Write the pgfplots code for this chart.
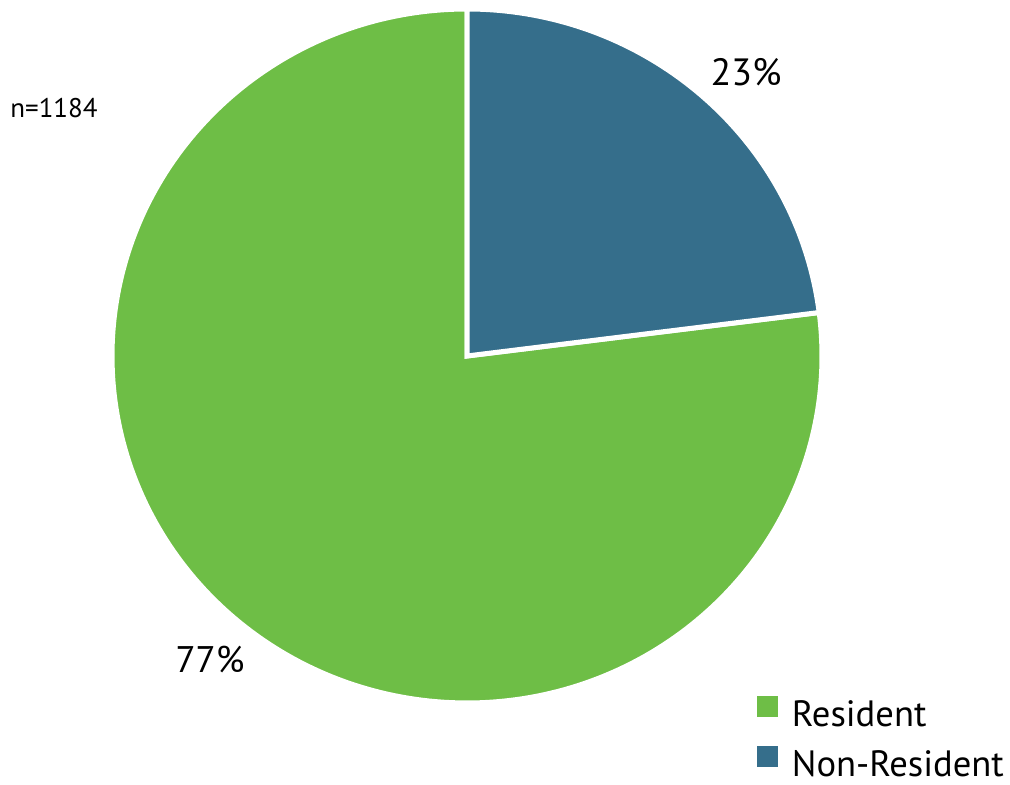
\documentclass[border=0pt]{standalone}
\usepackage{fontspec}
\setmainfont{PT Sans}
\usepackage{pgfplots}
\pgfplotsset{compat=1.18}
\definecolor{resgreen}{RGB}{110,190,70}
\definecolor{nonblue}{RGB}{53,110,139}

% shares in percent
\def\pRes{77}
\def\pNon{23}

\begin{document}
\begin{tikzpicture}
\pgfmathsetmacro\aSplit{90-3.6*\pNon}
\pgfmathsetmacro\aEnd{\aSplit-3.6*\pRes}
\begin{axis}[
  scale only axis,
  width=505pt, height=392.5pt,
  xmin=0, xmax=1010, ymin=0, ymax=785,
  hide axis, clip=false,
  area legend,
  legend image code/.code={\fill[#1,draw=none] (0pt,-1pt) rectangle (10.5pt,9.5pt);
    \path (14pt,0pt);},
  legend style={draw=none, fill=none, at={(axis cs:757,89)}, anchor=north west,
    font=\fontsize{18.3}{20}\selectfont, row sep=6pt, inner sep=0pt,
    cells={anchor=west}},
]
\path[use as bounding box] (rel axis cs:0,0) rectangle (rel axis cs:1,1);
\addplot[fill=resgreen, draw=white, line width=2.5pt, domain=\aEnd:\aSplit, samples=240, variable=\t]
  ({467+355*cos(\t)},{429+347*sin(\t)}) -- (axis cs:467,429) -- cycle;
\addlegendentry{Resident}
\addplot[fill=nonblue, draw=white, line width=2.5pt, domain=\aSplit:90, samples=80, variable=\t]
  ({467+355*cos(\t)},{429+347*sin(\t)}) -- (axis cs:467,429) -- cycle;
\addlegendentry{Non-Resident}
\node[font=\fontsize{19}{20}\selectfont] at (axis cs:746,713) {\pNon\%};
\node[font=\fontsize{18.5}{20}\selectfont] at (axis cs:210,125) {\pRes\%};
\node[font=\fontsize{13.5}{15}\selectfont] at (axis cs:54,677) {n=1184};
\end{axis}
\end{tikzpicture}
\end{document}
